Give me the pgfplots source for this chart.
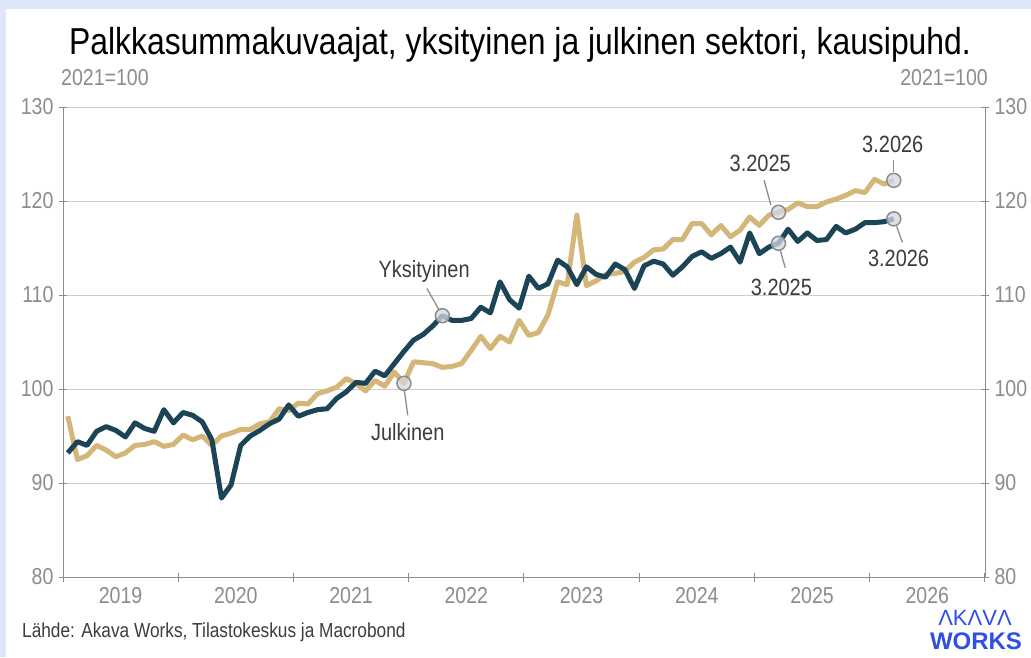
\documentclass[border=0pt]{standalone}
\usepackage{fontspec}
\setmainfont{Liberation Sans}[FakeStretch=0.85]
\newfontfamily\logofont{Liberation Sans}
\usepackage{pgfplots}
\pgfplotsset{compat=1.18}
\usepackage{pgfplotstable}
\definecolor{navy}{HTML}{1B4557}
\definecolor{gold}{HTML}{D4B679}
\definecolor{bgblue}{HTML}{DDE7F9}
\definecolor{axgray}{HTML}{8C8C8C}
\definecolor{gridgray}{HTML}{CDCDCD}
\definecolor{txtgray}{HTML}{3C3C3C}
\definecolor{logoblue}{HTML}{2F50E6}
\definecolor{mkfill}{HTML}{D3D8E0}

\pgfplotstableread{
m navy gold
0 93.2 97.1
1 94.4 92.5
2 94.0 92.9
3 95.5 94.0
4 96.0 93.5
5 95.6 92.8
6 94.9 93.2
7 96.4 94.0
8 95.8 94.1
9 95.5 94.4
10 97.8 93.9
11 96.4 94.1
12 97.5 95.1
13 97.2 94.6
14 96.5 95.0
15 94.6 94.0
16 88.4 95.0
17 89.8 95.3
18 94.0 95.7
19 95.0 95.7
20 95.6 96.3
21 96.3 96.5
22 96.8 97.9
23 98.3 97.7
24 97.1 98.5
25 97.5 98.4
26 97.8 99.5
27 97.9 99.8
28 99.0 100.2
29 99.7 101.1
30 100.7 100.6
31 100.6 99.8
32 101.9 100.9
33 101.4 100.3
34 102.7 101.8
35 104.0 100.6
36 105.2 102.9
37 105.8 102.8
38 106.7 102.7
39 107.8 102.3
40 107.3 102.4
41 107.3 102.7
42 107.5 104.1
43 108.7 105.6
44 108.1 104.3
45 111.4 105.6
46 109.5 105.0
47 108.6 107.3
48 112.0 105.7
49 110.7 106.0
50 111.2 107.9
51 113.7 111.4
52 113.0 111.1
53 111.1 118.5
54 113.0 111.0
55 112.2 111.5
56 111.9 112.2
57 113.3 112.3
58 112.7 112.5
59 110.7 113.5
60 113.1 114.0
61 113.6 114.8
62 113.3 114.9
63 112.1 115.9
64 113.0 115.9
65 114.1 117.6
66 114.6 117.6
67 113.9 116.4
68 114.4 117.4
69 115.1 116.2
70 113.5 116.9
71 116.6 118.3
72 114.4 117.4
73 115.1 118.5
74 115.5 118.8
75 117.0 119.1
76 115.7 119.8
77 116.6 119.4
78 115.8 119.4
79 115.9 119.9
80 117.3 120.2
81 116.6 120.6
82 117.0 121.1
83 117.7 120.9
84 117.7 122.3
85 117.8 121.8
86 118.1 122.2
}\data

\pgfplotstableread{
m v
35 100.6
74 118.8
86 122.2
}\goldmarks
\pgfplotstableread{
m v
39 107.8
74 115.5
86 118.1
}\navymarks

\begin{document}
\begin{tikzpicture}[x=1pt,y=1pt]
\fill[bgblue] (0,0) rectangle (1031,657);
\fill[white] (6,0) rectangle (1031,648);
\begin{axis}[
  at={(63pt,80pt)}, anchor=south west,
  width=922pt, height=470pt, scale only axis,
  xmin=-0.5, xmax=95.5, ymin=80, ymax=130,
  axis x line*=bottom, axis y line*=left,
  axis line style={axgray, line width=1pt, -},
  ytick={80,90,...,130},
  xtick={5.5,17.5,...,89.5},
  xticklabels={2019,2020,2021,2022,2023,2024,2025,2026},
  minor xtick={-0.5,11.5,...,95.5},
  major x tick style={draw=none},
  tick align=center,
  major tick length=8pt, minor tick length=9pt,
  tick style={axgray, line width=1pt},
  ymajorgrids, grid style={gridgray, line width=1pt},
  tick label style={font=\fontsize{23}{23}\selectfont, text=axgray},
  /pgf/number format/assume math mode=true,
  xticklabel style={yshift=-3pt},
  yticklabel style={xshift=-2pt},
  clip=false,
]
\addplot[gold, line width=5pt, line join=round] table[x=m, y=gold] {\data};
\addplot[navy, line width=5pt, line join=round] table[x=m, y=navy] {\data};
\addplot[only marks, mark=*, mark size=7pt, mark options={fill=mkfill, fill opacity=0.75, draw=axgray, line width=1.5pt}] table[x=m, y=v] {\goldmarks};
\addplot[only marks, mark=*, mark size=7pt, mark options={fill=mkfill, fill opacity=0.75, draw=axgray, line width=1.5pt}] table[x=m, y=v] {\navymarks};
% leader lines
\draw[axgray, line width=1.3pt] (axis cs:37.4,110.7) -- (axis cs:38.6,108.5);
\draw[axgray, line width=1.3pt] (axis cs:35.05,99.8) -- (axis cs:35.4,97.2);
\draw[axgray, line width=1.3pt] (axis cs:72.5,122.2) -- (axis cs:73.2,119.6);
\draw[axgray, line width=1.3pt] (axis cs:74.2,114.7) -- (axis cs:74.7,112.9);
\draw[axgray, line width=1.3pt] (axis cs:86.0,124.4) -- (axis cs:86.0,123.1);
\draw[axgray, line width=1.3pt] (axis cs:86.3,117.3) -- (axis cs:86.9,115.6);
% labels
\tikzset{ann/.style={text=txtgray, font=\fontsize{23.5}{23.5}\selectfont, inner sep=0pt}}
\node[ann] at (axis cs:37.1,112.55) {Yksityinen};
\node[ann] at (axis cs:35.4,95.4) {Julkinen};
\node[ann] at (axis cs:72.1,124.0) {3.2025};
\node[ann] at (axis cs:74.3,110.85) {3.2025};
\node[ann] at (axis cs:85.9,126.0) {3.2026};
\node[ann] at (axis cs:86.5,113.9) {3.2026};
\end{axis}
\begin{axis}[
  at={(63pt,80pt)}, anchor=south west,
  width=922pt, height=470pt, scale only axis,
  xmin=-0.5, xmax=95.5, ymin=80, ymax=130,
  axis y line*=right, axis x line=none,
  axis line style={axgray, line width=1pt, -},
  ytick={80,90,...,130},
  tick align=center, major tick length=8pt,
  tick style={axgray, line width=1pt},
  tick label style={font=\fontsize{23}{23}\selectfont, text=axgray},
  /pgf/number format/assume math mode=true,
  yticklabel style={xshift=2pt},
]
\end{axis}
\node[text=black, font=\fontsize{37.5}{37.5}\selectfont, inner sep=0pt] at (520,612) {Palkkasummakuvaajat, yksityinen ja julkinen sektori, kausipuhd.};
\node[anchor=west, text=axgray, font=\fontsize{23}{23}\selectfont, inner sep=0pt] at (61,579) {2021=100};
\node[anchor=east, text=axgray, font=\fontsize{23}{23}\selectfont, inner sep=0pt] at (988,579) {2021=100};
\node[anchor=west, text=txtgray, font=\fontsize{20.3}{20.3}\selectfont, inner sep=0pt] at (22,25) {Lähde: Akava Works, Tilastokeskus ja Macrobond};
\node[text=logoblue, font=\logofont\fontsize{22}{22}\selectfont, inner sep=0pt] at (975,39) {ΛKΛVΛ};
\node[text=logoblue, font=\logofont\bfseries\fontsize{24}{24}\selectfont, inner sep=0pt] at (976,16) {WORKS};
\pgfresetboundingbox
\useasboundingbox (0,0) rectangle (1031,657);
\end{tikzpicture}
\end{document}
